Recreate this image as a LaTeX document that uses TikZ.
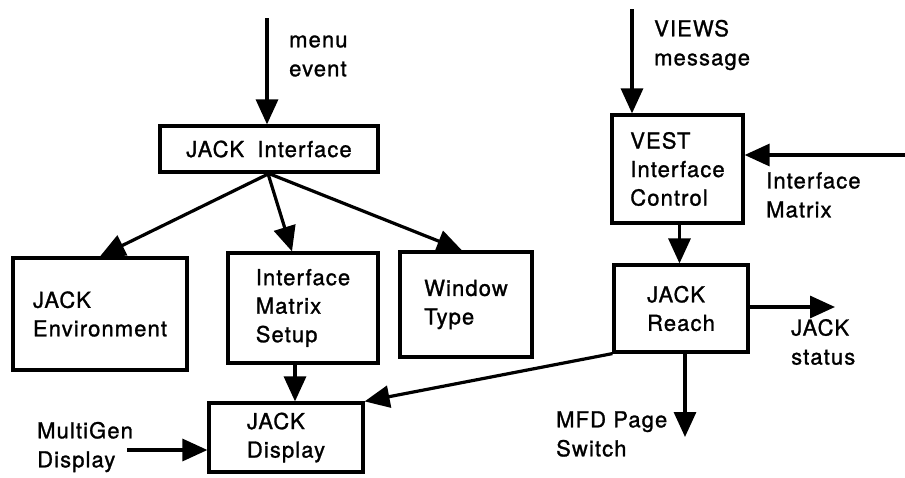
\documentclass[tikz,border=0pt]{standalone}
\usepackage{fontspec}
\setmainfont{TeX Gyre Heros}[LetterSpace=5,FakeBold=1.2]
\usetikzlibrary{arrows.meta}
\tikzset{
  blk/.style={draw, line width=3.2pt, inner sep=0pt, align=left, font=\fontsize{22}{28.5}\selectfont},
  lbl/.style={inner sep=0pt, anchor=west, align=left, font=\fontsize{22}{29}\selectfont},
  arr/.style={line width=3.2pt, -{Triangle[length=25pt,width=22pt]}}
}
\begin{document}
\begin{tikzpicture}[x=1pt,y=-1pt]
\useasboundingbox (0,0) rectangle (905,477);
% boxes
\node[blk, minimum width=218pt, minimum height=46pt] (ji) at (269,149) {JACK\hspace{6pt} Interface};
\node[blk, minimum width=174pt, minimum height=112pt] (env) at (100,314) {JACK\\Environment};
\node[blk, minimum width=150pt, minimum height=110pt] (ims) at (303,308) {Interface\\Matrix\\Setup};
\node[blk, minimum width=132pt, minimum height=105pt] (wt) at (466,304.5) {Window\\Type};
\node[blk, minimum width=154pt, minimum height=69pt] (disp) at (286,437.5) {JACK\\Display};
\node[blk, minimum width=131pt, minimum height=108pt] (vest) at (677.5,169) {VEST\\Interface\\Control};
\node[blk, minimum width=134pt, minimum height=87pt] (reach) at (681,308.5) {JACK\\Reach};
% free ends
\coordinate (me) at (267,18);
\coordinate (vm) at (632,9);
\coordinate (im) at (905,155);
\coordinate (js) at (835,307);
\coordinate (mfd) at (685,437);
\coordinate (mg) at (127,450);
% connectors
\draw[arr] (me) -- (me |- ji.north);
\draw[arr] (ji.south) -- (env.north);
\draw[arr] ([xshift=-1pt]ji.south) -- ([xshift=-11pt]ims.north);
\draw[arr] (ji.south) -- ([xshift=-4pt]wt.north);
\draw[arr] ([xshift=-8pt]ims.south) -- ([xshift=9pt]disp.north);
\draw[arr] (reach.south west) -- (disp.north east);
\draw[arr] (mg) -- (mg -| disp.west);
\draw[arr] (vm) -- (vm |- vest.north);
\draw[arr] (im) -- (im -| vest.east);
\draw[arr] ([xshift=2pt]vest.south) -- ([xshift=2pt]vest.south |- reach.north);
\draw[arr] (reach.east |- js) -- (js);
\draw[arr] (reach.south -| mfd) -- (mfd);
% labels
\node[lbl] (lme) at (289,56) {menu\\event};
\node[lbl] (lvm) at (654,45) {VIEWS\\message};
\node[lbl] (lim) at (766,195) {Interface\\Matrix};
\node[lbl] (ljs) at (791,342) {JACK\\status};
\node[lbl] (lmfd) at (556,434) {MFD Page\\Switch};
\node[lbl] (lmg) at (37,447) {MultiGen\\Display};
\end{tikzpicture}
\end{document}
